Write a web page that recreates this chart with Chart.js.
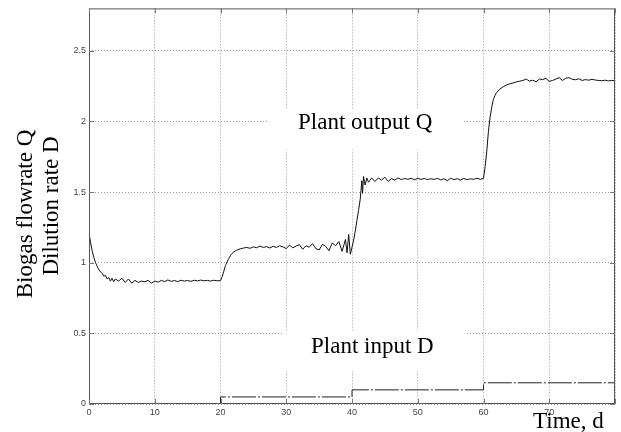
<!DOCTYPE html>
<html>
<head>
<meta charset="utf-8">
<script src="https://cdn.jsdelivr.net/npm/chart.js@4.4.1/dist/chart.umd.min.js"></script>
<style>
  html, body { margin: 0; padding: 0; background: #fff; }
  #wrap { width: 621px; height: 432px; }
</style>
</head>
<body>
<div id="wrap"><canvas id="biogasChart" width="621" height="432"></canvas></div>
<script>
// Plant output Q (biogas flowrate)
const qTimes = [
  0, 0.25, 0.5, 0.75, 1, 1.25, 1.5, 1.75, 2, 2.25, 2.5, 2.75, 3, 3.25, 3.5, 3.75, 4,
  4.5, 5, 5.5, 6, 6.5, 7, 7.5, 8, 8.5, 9, 9.5, 10, 10.5, 11, 11.5, 12, 12.5, 13, 13.5,
  14, 14.5, 15, 15.5, 16, 16.5, 17, 17.5, 18, 18.5, 19, 19.5, 20,
  20.25, 20.5, 20.75, 21, 21.25, 21.5, 21.75, 22, 22.5, 23, 23.5, 24, 24.5, 25, 25.5,
  26, 26.5, 27, 27.5, 28, 28.5, 29, 29.5, 30, 30.5, 31, 31.5, 32, 32.5, 33, 33.5, 34,
  34.5, 35, 35.5, 36, 36.5, 37, 37.5, 38, 38.5, 39, 39.25, 39.5, 39.75, 40,
  40.25, 40.5, 40.75, 41, 41.25, 41.5, 41.6, 41.75, 42, 42.25, 42.5, 43, 43.5, 44, 44.5,
  45, 45.5, 46, 46.5, 47, 47.5, 48, 48.5, 49, 49.5, 50, 50.5, 51, 51.5, 52, 52.5, 53,
  53.5, 54, 54.5, 55, 55.5, 56, 56.5, 57, 57.5, 58, 58.5, 59, 59.5, 60,
  60.25, 60.5, 60.75, 61, 61.25, 61.5, 61.75, 62, 62.5, 63, 63.5, 64, 64.5, 65, 65.5,
  66, 66.5, 67, 67.5, 68, 68.5, 69, 69.5, 70, 70.5, 71, 71.5, 72, 72.5, 73, 73.5, 74,
  74.5, 75, 75.5, 76, 76.5, 77, 77.5, 78, 78.5, 79, 79.5, 80
];
const qValues = [
  1.21, 1.14, 1.08, 1.035, 1.0, 0.975, 0.95, 0.935, 0.925, 0.905, 0.91, 0.885, 0.895, 0.87, 0.89, 0.865, 0.885,
  0.87, 0.89, 0.86, 0.885, 0.855, 0.875, 0.86, 0.87, 0.865, 0.875, 0.855, 0.87, 0.862, 0.875, 0.866, 0.878, 0.868, 0.874, 0.866,
  0.876, 0.87, 0.874, 0.868, 0.876, 0.871, 0.877, 0.872, 0.875, 0.87, 0.876, 0.872, 0.874,
  0.9, 0.94, 0.98, 1.005, 1.03, 1.05, 1.065, 1.075, 1.09, 1.098, 1.104, 1.108, 1.102, 1.112, 1.106,
  1.118, 1.108, 1.114, 1.104, 1.116, 1.108, 1.12, 1.112, 1.1, 1.125, 1.105, 1.118, 1.128, 1.095, 1.12, 1.11, 1.135,
  1.1, 1.09, 1.13, 1.115, 1.085, 1.14, 1.12, 1.15, 1.08, 1.165, 1.07, 1.2, 1.06, 1.11,
  1.16, 1.225, 1.3, 1.37, 1.45, 1.58, 1.49, 1.61, 1.55, 1.6, 1.57, 1.6, 1.575, 1.6, 1.585,
  1.605, 1.575, 1.595, 1.585, 1.6, 1.588, 1.596, 1.59, 1.598, 1.587, 1.597, 1.59, 1.596, 1.588, 1.594, 1.59, 1.597,
  1.586, 1.594, 1.58, 1.598, 1.588, 1.595, 1.585, 1.597, 1.587, 1.594, 1.59, 1.598, 1.59, 1.597,
  1.68, 1.79, 1.93, 2.03, 2.1, 2.155, 2.185, 2.205, 2.23, 2.245, 2.258, 2.266, 2.272, 2.28, 2.285,
  2.29, 2.3, 2.285, 2.292, 2.28, 2.3, 2.296, 2.305, 2.283, 2.29, 2.3, 2.31, 2.29, 2.305, 2.31, 2.298, 2.295,
  2.302, 2.29, 2.296, 2.292, 2.298, 2.293, 2.29, 2.288, 2.292, 2.287, 2.29, 2.288
];

// Plant input D (dilution rate), step changes
const dTimes = [0, 20, 40, 60, 80];
const dValues = [0, 0.05, 0.1, 0.15, 0.15];

const xTicks = [0, 10, 20, 30, 40, 50, 60, 70, 80];
const yTicks = [0, 0.5, 1, 1.5, 2, 2.5];

const yTitleLines = ['Biogas flowrate Q', 'Dilution rate D'];
const outputLabel = 'Plant output Q';
const inputLabel = 'Plant input D';
const xTitle = 'Time, d';

const serif = '"Liberation Serif", "DejaVu Serif", serif';

// white boxed labels in data units, plus frame, inside ticks and titles
const annotations = {
    id: 'annotations',
    beforeDatasetsDraw(chart) {
        const { ctx, scales: { x, y } } = chart;
        const boxes = [
            { text: outputLabel, x0: 27.1, x1: 56.9, y0: 1.8, y1: 2.09, tx: 42.0, ty: 1.944 },
            { text: inputLabel, x0: 29.4, x1: 57.2, y0: 0.24, y1: 0.52, tx: 43.1, ty: 0.359 }
        ];
        ctx.save();
        boxes.forEach(b => {
            const l = x.getPixelForValue(b.x0), r = x.getPixelForValue(b.x1);
            const t = y.getPixelForValue(b.y1), btm = y.getPixelForValue(b.y0);
            ctx.fillStyle = '#fff';
            ctx.fillRect(l, t, r - l, btm - t);
            ctx.fillStyle = '#000';
            ctx.font = '23px ' + serif;
            ctx.textAlign = 'center';
            ctx.textBaseline = 'alphabetic';
            ctx.fillText(b.text, x.getPixelForValue(b.tx), y.getPixelForValue(b.ty));
        });
        ctx.restore();
    },
    afterDatasetsDraw(chart) {
        const { ctx, chartArea: a, scales: { x, y } } = chart;
        ctx.save();
        ctx.strokeStyle = '#555';
        ctx.lineWidth = 1;
        ctx.strokeRect(a.left + 0.5, a.top + 0.5, a.right - a.left - 1, a.bottom - a.top - 1);
        ctx.strokeStyle = '#777';
        ctx.beginPath();
        xTicks.forEach(v => {
            const px = Math.round(x.getPixelForValue(v)) + 0.5;
            ctx.moveTo(px, a.bottom); ctx.lineTo(px, a.bottom - 5);
            ctx.moveTo(px, a.top); ctx.lineTo(px, a.top + 5);
        });
        yTicks.forEach(v => {
            const py = Math.round(y.getPixelForValue(v)) + 0.5;
            ctx.moveTo(a.left, py); ctx.lineTo(a.left + 5, py);
            ctx.moveTo(a.right, py); ctx.lineTo(a.right - 5, py);
        });
        ctx.stroke();
        ctx.restore();
    },
    afterDraw(chart) {
        const { ctx } = chart;
        ctx.save();
        ctx.fillStyle = '#000';
        ctx.font = '23px ' + serif;
        ctx.textBaseline = 'alphabetic';
        ctx.textAlign = 'left';
        ctx.fillText(xTitle, 533, 428);
        // rotated y title, two lines
        const lines = [{ bx: 32, cy: 214 }, { bx: 58, cy: 206 }];
        ctx.textAlign = 'center';
        yTitleLines.forEach((txt, i) => {
            ctx.save();
            ctx.translate(lines[i].bx, lines[i].cy);
            ctx.rotate(-Math.PI / 2);
            ctx.fillText(txt, 0, 0);
            ctx.restore();
        });
        ctx.restore();
    }
};

const ctx = document.getElementById('biogasChart').getContext('2d');
new Chart(ctx, {
    type: 'line',
    data: {
        datasets: [
            {
                label: 'Plant output Q',
                data: qTimes.map((t, i) => ({ x: t, y: qValues[i] })),
                borderColor: '#111',
                borderWidth: 1,
                pointRadius: 0,
                tension: 0
            },
            {
                label: 'Plant input D',
                data: dTimes.map((t, i) => ({ x: t, y: dValues[i] })),
                borderColor: '#222',
                borderWidth: 1,
                borderDash: [24, 2, 2, 2],
                pointRadius: 0,
                stepped: 'before'
            }
        ]
    },
    options: {
        responsive: false,
        devicePixelRatio: 1,
        animation: false,
        layout: { padding: { top: 7, right: 6, left: 0, bottom: 0 } },
        plugins: {
            legend: { display: false },
            tooltip: { enabled: false }
        },
        scales: {
            x: {
                type: 'linear',
                min: 0,
                max: 80,
                afterFit: s => { s.height = 28; },
                afterBuildTicks: s => { s.ticks = xTicks.map(v => ({ value: v })); },
                ticks: {
                    color: '#444',
                    font: { family: '"Liberation Sans", Arial, sans-serif', size: 9 },
                    padding: 3,
                    maxRotation: 0,
                    callback: v => (v === 80 ? '' : String(v))
                },
                grid: { color: '#999', lineWidth: 1, drawTicks: false },
                border: { display: false, dash: [1, 2] }
            },
            y: {
                type: 'linear',
                min: 0,
                max: 2.8,
                afterFit: s => { s.width = 89; },
                afterBuildTicks: s => { s.ticks = yTicks.map(v => ({ value: v })); },
                ticks: {
                    color: '#444',
                    font: { family: '"Liberation Sans", Arial, sans-serif', size: 9 },
                    padding: 3,
                    callback: v => String(v)
                },
                grid: { color: '#999', lineWidth: 1, drawTicks: false },
                border: { display: false, dash: [1, 2] }
            }
        }
    },
    plugins: [annotations]
});
</script>
</body>
</html>
